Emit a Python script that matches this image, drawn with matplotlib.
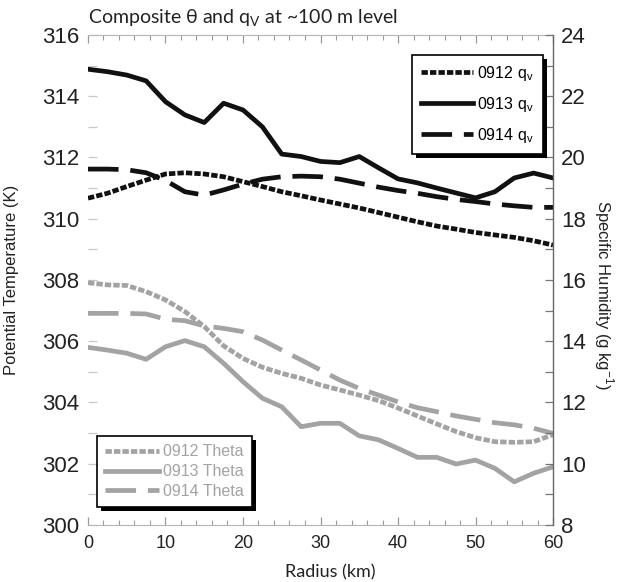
import matplotlib
matplotlib.use("Agg")
import matplotlib.pyplot as plt
from matplotlib.ticker import MultipleLocator
from matplotlib.patches import Rectangle

plt.rcParams['font.family'] = ['Liberation Sans', 'DejaVu Sans']
plt.rcParams['lines.scale_dashes'] = False

# Radius (km)
radius = [0, 2.5, 5, 7.5, 10, 12.5, 15, 17.5, 20, 22.5, 25, 27.5, 30,
          32.5, 35, 37.5, 40, 42.5, 45, 47.5, 50, 52.5, 55, 57.5, 60]

# Specific humidity (g/kg)
qv_0912 = [18.67, 18.83, 19.05, 19.26, 19.46, 19.50, 19.46, 19.37, 19.21, 19.05,
           18.88, 18.75, 18.61, 18.48, 18.35, 18.20, 18.05, 17.90, 17.76, 17.66,
           17.55, 17.47, 17.39, 17.28, 17.14]
qv_0913 = [22.88, 22.80, 22.69, 22.50, 21.82, 21.39, 21.14, 21.77, 21.55, 21.00,
           20.11, 20.03, 19.87, 19.83, 20.03, 19.66, 19.30, 19.17, 19.00, 18.84,
           18.68, 18.88, 19.33, 19.49, 19.33]
qv_0914 = [19.62, 19.62, 19.60, 19.50, 19.25, 18.88, 18.77, 18.94, 19.13, 19.29,
           19.37, 19.39, 19.37, 19.29, 19.16, 19.03, 18.92, 18.83, 18.72, 18.63,
           18.56, 18.48, 18.42, 18.37, 18.37]

# Potential temperature (K)
theta_0912 = [307.91, 307.84, 307.82, 307.62, 307.35, 306.97, 306.48, 305.85, 305.44, 305.15,
              304.95, 304.79, 304.57, 304.41, 304.24, 304.06, 303.82, 303.56, 303.30, 303.05,
              302.85, 302.72, 302.70, 302.72, 302.95]
theta_0913 = [305.80, 305.71, 305.61, 305.41, 305.82, 306.02, 305.82, 305.28, 304.68, 304.14,
              303.86, 303.21, 303.32, 303.32, 302.91, 302.78, 302.50, 302.21, 302.21, 301.99,
              302.12, 301.85, 301.41, 301.69, 301.90]
theta_0914 = [306.91, 306.91, 306.91, 306.89, 306.72, 306.67, 306.50, 306.42, 306.31, 306.04,
              305.71, 305.39, 305.06, 304.73, 304.46, 304.24, 304.02, 303.83, 303.70, 303.56,
              303.45, 303.34, 303.27, 303.16, 302.99]

BLACK = '#111111'
GRAY = '#a3a3a3'
LW = 3.4
SHORT = (0, (4.6, 1.5))
LONG = (0, (22.0, 8.5))

fig = plt.figure(figsize=(6.17, 5.82), dpi=100)
ax = fig.add_axes([0.1426, 0.0979, 0.7537, 0.8421])
ax2 = ax.twinx()

# theta on left axis
l1, = ax.plot(radius, theta_0912, color=GRAY, lw=LW, linestyle=SHORT, label='0912 Theta')
l2, = ax.plot(radius, theta_0913, color=GRAY, lw=LW, label='0913 Theta')
l3, = ax.plot(radius, theta_0914, color=GRAY, lw=LW, linestyle=LONG, label='0914 Theta')

# qv on right axis
k1, = ax2.plot(radius, qv_0912, color=BLACK, lw=LW, linestyle=SHORT, label='0912 q$_\\mathregular{v}$')
k2, = ax2.plot(radius, qv_0913, color=BLACK, lw=LW, label='0913 q$_\\mathregular{v}$')
k3, = ax2.plot(radius, qv_0914, color=BLACK, lw=LW, linestyle=LONG, label='0914 q$_\\mathregular{v}$')

ax.set_xlim(0, 60)
ax.set_ylim(300, 316)
ax2.set_ylim(8, 24)

ax.xaxis.set_major_locator(MultipleLocator(10))
ax.xaxis.set_minor_locator(MultipleLocator(2))
ax.yaxis.set_major_locator(MultipleLocator(2))
ax.yaxis.set_minor_locator(MultipleLocator(1))
ax2.yaxis.set_major_locator(MultipleLocator(2))
ax2.yaxis.set_minor_locator(MultipleLocator(1))

# frame
ax.spines['left'].set_visible(False)
ax2.spines['left'].set_visible(False)
for s in ('top', 'bottom'):
    ax.spines[s].set_color('#b5b5b5')
    ax.spines[s].set_linewidth(0.8)
    ax2.spines[s].set_visible(False)
ax.spines['right'].set_visible(False)
ax2.spines['right'].set_color('#666666')
ax2.spines['right'].set_linewidth(1.0)

ax.tick_params(axis='x', which='both', direction='in', top=True, bottom=True,
               color='#9a9a9a', labelsize=13, pad=7, labelcolor='#222222')
ax.tick_params(axis='x', which='major', length=6, width=0.9)
ax.tick_params(axis='x', which='minor', length=3.5, width=0.8)
ax.tick_params(axis='y', which='both', direction='in', left=True, right=False,
               color='#c8c8c8', labelsize=16, pad=6, length=6.5, width=0.9,
               labelcolor='#222222')
ax2.tick_params(axis='y', which='both', direction='in', right=True,
                color='#777777', labelsize=16, pad=6, length=6, width=0.9,
                labelcolor='#222222')

ax.set_xlabel('Radius (km)', fontsize=13, family=['Lato', 'DejaVu Sans'], color='#222222')
ax.xaxis.set_label_coords(0.52, -0.08)
ax.set_ylabel('Potential Temperature (K)', fontsize=12, color='#222222')
ax.yaxis.set_label_coords(-0.148, 0.5)
ax2.set_ylabel('Specific Humidity (g kg$^{\\mathregular{-1}}$)', fontsize=12,
               rotation=270, color='#222222')
ax2.yaxis.set_label_coords(1.135, 0.47)

fig.text(0.1426, 0.968, 'Composite \u03b8 and q$_\\mathregular{V}$ at ~100 m level',
         fontsize=14, family=['Lato', 'DejaVu Sans'], ha='left', va='center',
         color='#222222')

leg2 = ax2.legend(handles=[k1, k2, k3], loc='upper right', bbox_to_anchor=(0.978, 0.959),
                  borderaxespad=0, fancybox=False, shadow=False, fontsize=11.5,
                  handlelength=3.3, handletextpad=0.25, labelspacing=0.75,
                  borderpad=0.55, framealpha=1)
leg2.get_frame().set_edgecolor('black')
leg2.get_frame().set_linewidth(1.2)

leg1 = ax2.legend(handles=[l1, l2, l3], loc='lower left', bbox_to_anchor=(0.019, 0.037),
                  borderaxespad=0, fancybox=False, shadow=False, fontsize=11.5,
                  handlelength=3.4, handletextpad=0.25, labelspacing=0.3,
                  borderpad=0.5, framealpha=1, labelcolor=GRAY)
leg1.get_frame().set_edgecolor('black')
leg1.get_frame().set_linewidth(1.2)
ax2.add_artist(leg2)

# drop shadows behind the legend boxes
fig.canvas.draw()
for leg in (leg1, leg2):
    bb = leg.get_frame().get_window_extent()
    sh = Rectangle((bb.x0 + 4, bb.y0 - 4), bb.width, bb.height, transform=None,
                   facecolor='black', edgecolor='none', zorder=4.9, clip_on=False)
    ax2.add_artist(sh)

fig.savefig('out.png', dpi=100)
